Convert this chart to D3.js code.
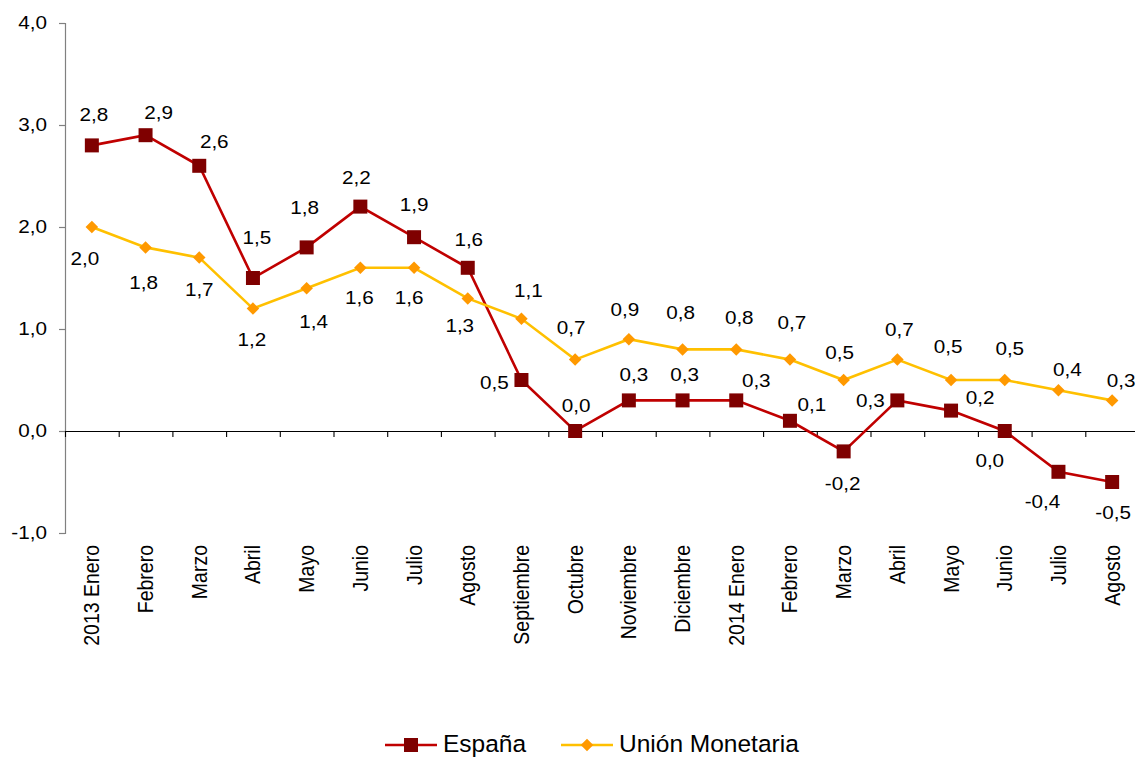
<!DOCTYPE html>
<html>
<head>
<meta charset="utf-8">
<script src="https://cdn.jsdelivr.net/npm/d3@7"></script>
<style>
  body { margin: 0; background: #fff; }
  svg { display: block; font-family: Arial, "Liberation Sans", sans-serif; }
</style>
</head>
<body>
<svg id="chart" width="1135" height="758"></svg>
<script>
// chart data
var categories = ["2013 Enero", "Febrero", "Marzo", "Abril", "Mayo", "Junio", "Julio", "Agosto",
  "Septiembre", "Octubre", "Noviembre", "Diciembre", "2014 Enero", "Febrero", "Marzo", "Abril",
  "Mayo", "Junio", "Julio", "Agosto"];
var espana = [2.8, 2.9, 2.6, 1.5, 1.8, 2.2, 1.9, 1.6, 0.5, 0.0, 0.3, 0.3, 0.3, 0.1, -0.2, 0.3, 0.2, 0.0, -0.4, -0.5];
var union = [2.0, 1.8, 1.7, 1.2, 1.4, 1.6, 1.6, 1.3, 1.1, 0.7, 0.9, 0.8, 0.8, 0.7, 0.5, 0.7, 0.5, 0.5, 0.4, 0.3];
var yTicks = [-1, 0, 1, 2, 3, 4];

// where each data label sits relative to its point (px)
var espanaLabelPos = [[2,-31],[13,-23],[15,-24],[4,-40],[-2,-40],[-4,-29],[0,-33],[1,-28],[-27,3],[1,-25],
  [5,-26],[2,-26],[20,-20],[22,-16],[-1,32],[-27,0],[29,-13],[-15,30],[-16,30],[1,31]];
var unionLabelPos = [[-7,32],[-2,35],[0,32],[-1,31],[7,33],[-1,30],[-5,30],[-8,27],[7,-28],[-4,-32],
  [-4,-30],[-2,-37],[3,-32],[2,-37],[-4,-27],[2,-30],[-3,-33],[5,-31],[9,-21],[9,-20]];

var fmt = function (v) {
  var s = Math.abs(v).toFixed(1).replace(".", ",");
  return (v < 0 ? "-" : "") + s;
};

var svg = d3.select("#chart");
var left = 65, step = 53.7;
var stretch = 1.15; // the reference glyphs are a bit wider than plain Arial

var x = d3.scaleBand().domain(d3.range(categories.length))
  .range([left, left + step * categories.length]);
var xEdge = d3.scaleLinear().domain([0, categories.length])
  .range([left, left + step * categories.length]);
var y = d3.scaleLinear().domain([-1, 4]).range([533, 23]);
var cx = function (i) { return x(i) + x.bandwidth() / 2; };

// y axis
var yAxis = svg.append("g").attr("transform", "translate(" + left + ",0)")
  .call(d3.axisLeft(y).tickValues(yTicks).tickFormat(fmt).tickSize(6).tickPadding(12));
yAxis.selectAll("path, line").attr("stroke", "#808080").attr("stroke-width", 1.2);
yAxis.selectAll("text").attr("font-size", 18).attr("fill", "#000")
  .attr("font-family", "Arial, 'Liberation Sans', sans-serif")
  .attr("transform", function () {
    var tx = +d3.select(this).attr("x");
    return "translate(" + tx + ",0) scale(" + stretch + ",1) translate(" + (-tx) + ",0)";
  });

// x axis at zero, ticks between categories
var xAxis = svg.append("g").attr("transform", "translate(0," + y(0) + ")")
  .call(d3.axisBottom(xEdge).tickValues(d3.range(categories.length + 1)).tickFormat("").tickSize(6).tickSizeOuter(0));
xAxis.selectAll("path, line").attr("stroke", "#000").attr("stroke-width", 1.1);

// category labels along the bottom
var xLabels = svg.append("g").attr("transform", "translate(0," + y(-1) + ")")
  .call(d3.axisBottom(x).tickSize(0).tickFormat(function (i) { return categories[i]; }));
xLabels.select(".domain").remove();
xLabels.selectAll("text")
  .attr("font-size", 19.5).attr("fill", "#000")
  .attr("font-family", "Arial, 'Liberation Sans', sans-serif")
  .attr("transform", "rotate(-90) scale(1,1.1)")
  .attr("x", -12).attr("y", 0).attr("dy", "0.35em")
  .style("text-anchor", "end");

var line = d3.line().x(function (d, i) { return cx(i); }).y(function (d) { return y(d); });

var series = [
  { name: "España", values: espana, lineColor: "#C00000", markColor: "#7F0000", shape: d3.symbolSquare, size: 196, pos: espanaLabelPos },
  { name: "Unión Monetaria", values: union, lineColor: "#FFC000", markColor: "#FF9900", shape: d3.symbolDiamond2, size: 100, pos: unionLabelPos }
];

series.forEach(function (s) {
  svg.append("path").datum(s.values)
    .attr("fill", "none").attr("stroke", s.lineColor).attr("stroke-width", 2.6)
    .attr("d", line);
  svg.append("g").selectAll("path").data(s.values).enter().append("path")
    .attr("transform", function (d, i) { return "translate(" + cx(i) + "," + y(d) + ")"; })
    .attr("d", d3.symbol().type(s.shape).size(s.size))
    .attr("fill", s.markColor);
});

series.forEach(function (s) {
  svg.append("g").selectAll("text").data(s.values).enter().append("text")
    .attr("transform", function (d, i) {
      return "translate(" + (cx(i) + s.pos[i][0]) + "," + (y(d) + s.pos[i][1]) + ") scale(" + stretch + ",1)";
    })
    .attr("dy", "0.35em").attr("text-anchor", "middle")
    .attr("font-size", 18).attr("fill", "#000")
    .text(fmt);
});

// legend
var legend = svg.append("g").attr("transform", "translate(0,745)");
var legendX = [385, 561];
series.forEach(function (s, k) {
  var g = legend.append("g").attr("transform", "translate(" + legendX[k] + ",0)");
  g.append("line").attr("x1", 0).attr("x2", 52).attr("y1", 0).attr("y2", 0)
    .attr("stroke", s.lineColor).attr("stroke-width", 2.6);
  g.append("path").attr("transform", "translate(26,0)")
    .attr("d", d3.symbol().type(s.shape).size(s.size)).attr("fill", s.markColor);
  g.append("text").attr("x", 58).attr("dy", "0.3em")
    .attr("font-size", 24.5).attr("fill", "#000").text(s.name);
});
</script>
</body>
</html>
